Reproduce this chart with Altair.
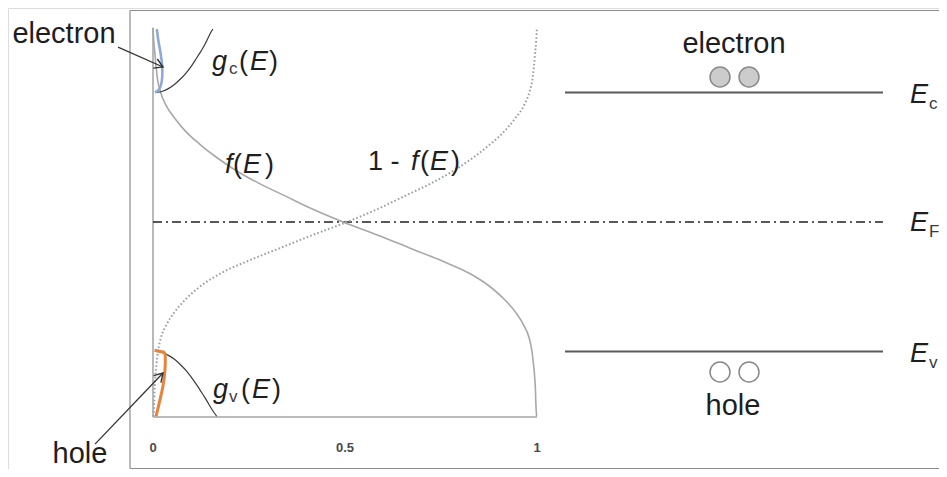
import altair as alt
import pandas as pd

# ---------------- data ----------------
# Energy axis: E in units of (Ec - EF); Ec = 1, EF = 0, Ev = -1
energy = [1.5, 1.4, 1.3, 1.2, 1.1, 1.0, 0.9, 0.8, 0.7, 0.6, 0.5, 0.4, 0.3, 0.2, 0.1, 0.0,
          -0.1, -0.2, -0.3, -0.4, -0.5, -0.6, -0.7, -0.8, -0.9, -1.0, -1.1, -1.2, -1.3, -1.4, -1.5]
f_E = [0.0, 0.002, 0.005, 0.008, 0.012, 0.020, 0.034, 0.057, 0.085, 0.122, 0.165, 0.215,
       0.275, 0.345, 0.415, 0.495, 0.584, 0.668, 0.752, 0.826, 0.878, 0.916, 0.945, 0.966,
       0.980, 0.987, 0.991, 0.994, 0.996, 0.997, 0.999]

# conduction-band density of states g_c(E)
gc_energy = [1.0, 1.01, 1.03, 1.06, 1.10, 1.15, 1.20, 1.25, 1.30, 1.35, 1.40, 1.45, 1.49]
gc_values = [0.008, 0.025, 0.040, 0.055, 0.070, 0.086, 0.099, 0.110, 0.121, 0.131, 0.140, 0.148, 0.156]

# valence-band density of states g_v(E)
gv_energy = [-1.0, -1.01, -1.03, -1.06, -1.10, -1.15, -1.20, -1.25, -1.30, -1.35, -1.40, -1.45, -1.5]
gv_values = [0.008, 0.025, 0.040, 0.056, 0.071, 0.087, 0.100, 0.112, 0.123, 0.134, 0.144, 0.154, 0.166]

# electron distribution (blue) and hole distribution (orange)
n_energy = [1.0, 1.02, 1.06, 1.12, 1.20, 1.30, 1.40, 1.49]
n_values = [0.005, 0.015, 0.021, 0.024, 0.024, 0.020, 0.014, 0.010]
p_energy = [-0.99, -1.0, -1.01, -1.05, -1.15, -1.25, -1.35, -1.45, -1.5]
p_values = [0.004, 0.020, 0.030, 0.032, 0.031, 0.027, 0.020, 0.012, 0.008]

# band levels
level_names = ["Ec", "EF", "Ev"]
level_energy = [1.0, 0.0, -1.0]

# x tick labels
tick_values = [0, 0.5, 1]
tick_labels = ["0", "0.5", "1"]

# ---------------- scales ----------------
X_DOM = [-0.3776, 2.0469]
Y_DOM = [-1.9073, 1.6525]
xs = alt.Scale(domain=X_DOM, nice=False, zero=False)
ys = alt.Scale(domain=Y_DOM, nice=False, zero=False)


def X(field):
    return alt.X(field, type="quantitative", scale=xs, axis=None)


def Y(field):
    return alt.Y(field, type="quantitative", scale=ys, axis=None)


fdf = pd.DataFrame({"E": energy, "f": f_E})
gcdf = pd.DataFrame({"E": gc_energy, "g": gc_values})
gvdf = pd.DataFrame({"E": gv_energy, "g": gv_values})
ndf = pd.DataFrame({"E": n_energy, "v": n_values})
pdf_ = pd.DataFrame({"E": p_energy, "v": p_values})
lev = pd.DataFrame({"name": level_names, "E": level_energy})
ticks = pd.DataFrame({"x": tick_values, "label": tick_labels, "y": [-1.776] * 3})

# ---------------- frame and axes ----------------
frame = pd.DataFrame({
    "x": [-0.0599, -0.0599, -0.0599],
    "x2": [-0.0599, 2.0469, 2.0469],
    "y": [1.6332, 1.6332, -1.9035],
    "y2": [-1.9035, 1.6332, -1.9035],
})
frame_layer = alt.Chart(frame).mark_rule(color="#8c8c8c", strokeWidth=1.2).encode(
    x=X("x"), x2="x2", y=Y("y"), y2="y2")

axes = pd.DataFrame({"x": [0, 0], "x2": [0, 1], "y": [1.5, -1.506], "y2": [-1.506, -1.506]})
axes_layer = alt.Chart(axes).mark_rule(color="#a3a3a3", strokeWidth=1.5).encode(
    x=X("x"), x2="x2", y=Y("y"), y2="y2")

tick_layer = alt.Chart(ticks).mark_text(
    font="Liberation Sans", fontSize=13, fontWeight="bold", color="#4a4a4a",
    align="center", baseline="alphabetic").encode(x=X("x"), y=Y("y"), text="label:N")

# ---------------- curves ----------------
f_layer = alt.Chart(fdf).mark_line(color="#a8a8a8", strokeWidth=1.6, interpolate="monotone").encode(
    x=X("f"), y=Y("E"), order="f:Q")

omf_layer = alt.Chart(fdf).transform_calculate(omf="1 - datum.f").mark_line(
    color="#9aa0ab", strokeWidth=2, strokeDash=[1.6, 2.2], interpolate="monotone").encode(
    x=X("omf"), y=Y("E"), order="omf:Q")

gc_layer = alt.Chart(gcdf).mark_line(color="#3a3a3a", strokeWidth=1.2, interpolate="monotone").encode(
    x=X("g"), y=Y("E"), order="g:Q")
gv_layer = alt.Chart(gvdf).mark_line(color="#3a3a3a", strokeWidth=1.2, interpolate="monotone").encode(
    x=X("g"), y=Y("E"), order="g:Q")

n_layer = alt.Chart(ndf).mark_line(color="#8fa8d8", strokeWidth=2.6, interpolate="cardinal").encode(
    x=X("v"), y=Y("E"), order="E:Q")
p_layer = alt.Chart(pdf_).mark_line(color="#e8843a", strokeWidth=3, interpolate="cardinal").encode(
    x=X("v"), y=Y("E"), order="E:Q")

# ---------------- band levels ----------------
band_df = lev[lev["name"] != "EF"].assign(x=1.0729, x2=1.9010)
band_layer = alt.Chart(band_df).mark_rule(color="#5a5a5a", strokeWidth=2).encode(
    x=X("x"), x2="x2", y=Y("E"))
ef_df = lev[lev["name"] == "EF"].assign(x=0.0, x2=1.9010)
ef_layer = alt.Chart(ef_df).mark_rule(color="#222222", strokeWidth=1.5, strokeDash=[9, 4, 2, 4]).encode(
    x=X("x"), x2="x2", y=Y("E"))

# ---------------- carriers ----------------
carriers = pd.DataFrame({
    "x": [1.4766, 1.5521, 1.4766, 1.5521],
    "y": [1.1197, 1.1197, -1.1583, -1.1583],
    "kind": ["electron", "electron", "hole", "hole"],
})
e_circ = alt.Chart(carriers[carriers["kind"] == "electron"]).mark_point(
    shape="circle", filled=True, fill="#cccccc", stroke="#8a8a8a", strokeWidth=1.5,
    size=400, opacity=1).encode(x=X("x"), y=Y("y"))
h_circ = alt.Chart(carriers[carriers["kind"] == "hole"]).mark_point(
    shape="circle", filled=True, fill="#ffffff", stroke="#8a8a8a", strokeWidth=1.5,
    size=400, opacity=1).encode(x=X("x"), y=Y("y"))

# ---------------- arrows ----------------
arrows = pd.DataFrame({
    "x": [-0.0911, -0.151], "y": [1.351, -1.715],
    "x2": [0.026, 0.026], "y2": [1.197, -1.166],
    "angle": [24, 313],
})
shaft = alt.Chart(arrows).mark_rule(color="#333333", strokeWidth=1.3).encode(
    x=X("x"), y=Y("y"), x2="x2", y2="y2")
head = alt.Chart(arrows).mark_point(
    shape="M -1 -0.6 L 0 0 L -1 0.6", filled=False, stroke="#333333", strokeWidth=1.4,
    size=280, opacity=1).encode(x=X("x2"), y=Y("y2"), angle=alt.Angle("angle:Q", scale=None))

# ---------------- labels ----------------
words = pd.DataFrame({
    "t": ["electron", "hole", "electron", "hole"],
    "x": [-0.2318, -0.1901, 1.5130, 1.5104],
    "y": [1.3822, -1.8610, 1.3050, -1.4903],
})
words_layer = alt.Chart(words).mark_text(
    font="Liberation Sans", fontSize=29, color="#1e1e1e", align="center",
    baseline="alphabetic").encode(x=X("x"), y=Y("y"), text="t:N")

upright = pd.DataFrame({
    "t": ["(", ")", "(", ")", "1 -", "(", ")", "(", ")"],
    "x": [0.2240, 0.3021, 0.2083, 0.2917, 0.5599, 0.6953, 0.7760, 0.2292, 0.3099],
    "y": [1.1737, 1.1737, 0.3784, 0.3784, 0.4015, 0.4015, 0.4015, -1.3591, -1.3591],
})
upright_layer = alt.Chart(upright).mark_text(
    font="Liberation Sans", fontSize=27, color="#1e1e1e", align="left",
    baseline="alphabetic").encode(x=X("x"), y=Y("y"), text="t:N")

italic = pd.DataFrame({
    "t": ["g", "E", "f", "E", "f", "E", "g", "E", "E", "E", "E"],
    "x": [0.1536, 0.2526, 0.1875, 0.2344, 0.6719, 0.7214, 0.1563, 0.2578, 1.9714, 1.9714, 1.9714],
    "y": [1.1737, 1.1737, 0.3784, 0.3784, 0.4015, 0.4015, -1.3591, -1.3591, 0.9189, -0.0695, -1.0811],
})
italic_layer = alt.Chart(italic).mark_text(
    font="Liberation Sans", fontSize=27, fontStyle="italic", color="#1e1e1e", align="left",
    baseline="alphabetic").encode(x=X("x"), y=Y("y"), text="t:N")

subs = pd.DataFrame({
    "t": ["c", "v", "c", "F", "v"],
    "x": [0.1979, 0.1979, 2.0208, 2.0208, 2.0208],
    "y": [1.1429, -1.3900, 0.8726, -0.1158, -1.1274],
})
subs_layer = alt.Chart(subs).mark_text(
    font="Liberation Sans", fontSize=17, color="#3a3a3a", align="left",
    baseline="alphabetic").encode(x=X("x"), y=Y("y"), text="t:N")

chart = alt.layer(
    frame_layer, axes_layer, ef_layer, band_layer,
    f_layer, omf_layer, gc_layer, gv_layer, n_layer, p_layer,
    e_circ, h_circ, shaft, head, tick_layer,
    words_layer, upright_layer, italic_layer, subs_layer,
).properties(
    width=931, height=461, autosize=alt.AutoSizeParams(type="none"), padding=0,
).configure_view(stroke=None).configure(background="white")

chart.save("out.html", embed_options={"renderer": "svg", "actions": False})
